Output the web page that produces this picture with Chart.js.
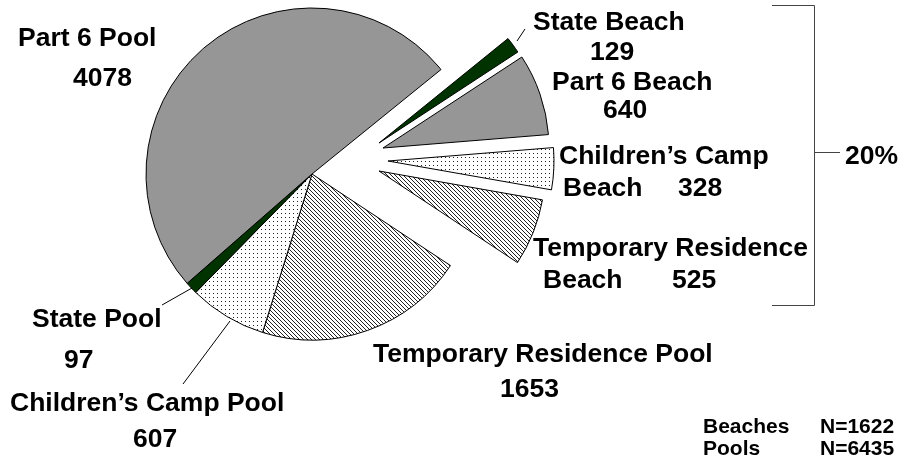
<!DOCTYPE html>
<html><head><meta charset="utf-8">
<script src="https://cdn.jsdelivr.net/npm/chart.js@4"></script>
<style>html,body{margin:0;padding:0;background:#fff;}#wrap{width:904px;height:461px;}</style>
</head><body><div id="wrap"><canvas id="c" width="904" height="461"></canvas></div>
<script>
// ---- data ----
const categories = ["State Beach","Part 6 Beach","Children’s Camp Beach","Temporary Residence Beach","Temporary Residence Pool","Children’s Camp Pool","State Pool","Part 6 Pool"];
const values = [129, 640, 328, 525, 1653, 607, 97, 4078];
const groupNames = ["Beaches", "Pools"];
const groupTotals = [1622, 6435];
const bracketLabel = "20%";

// ---- styles ----
const GREY = '#969696', GREEN = '#003300';
function makePattern(kind){
  const c = document.createElement('canvas'); c.width = 4; c.height = 4;
  const g = c.getContext('2d');
  g.fillStyle = '#fff'; g.fillRect(0,0,4,4);
  g.fillStyle = '#222';
  if (kind === 'dots') { g.fillRect(1,1,1,1); }
  else { for (let i=0;i<4;i++) g.fillRect(i,i,1,1); }
  return g.createPattern(c,'repeat');
}
const DOTS = makePattern('dots'), HATCH = makePattern('hatch');
const fills = [GREEN, GREY, DOTS, HATCH, HATCH, DOTS, GREEN, GREY];
// translation of the detached (beach) slices, in px
const shifts = {0:[67,-31], 1:[71,-26], 2:[76,-13], 3:[67,-3]};

const explodePlugin = {
  id: 'explode',
  afterDatasetUpdate(chart, args) {
    args.meta.data.forEach((arc, i) => {
      const s = shifts[i];
      if (s) { arc.x += s[0]; arc.y += s[1]; }
    });
  }
};

const FONT = 'bold 26.5px "Liberation Sans", Arial, sans-serif';
const FONT_S = 'bold 21px "Liberation Sans", Arial, sans-serif';
// label placement: [text, left x, baseline y]
function labelItems(){
  const v = values.map(String);
  const w = s => s.split(' ');
  const ccb = w(categories[2]), trb = w(categories[3]);
  return [
    [categories[7], 18, 46], [v[7], 73, 86],
    [categories[0], 533, 30], [v[0], 590, 60],
    [categories[1], 552, 90], [v[1], 603, 118],
    [ccb.slice(0,2).join(' '), 559, 164], [ccb.slice(2).join(' '), 563, 196], [v[2], 678, 196],
    [trb.slice(0,2).join(' '), 533, 256], [trb.slice(2).join(' '), 543, 288], [v[3], 672, 288],
    [categories[6], 32, 327], [v[6], 64, 368],
    [categories[5], 10, 411], [v[5], 133, 447],
    [categories[4], 373, 362], [v[4], 500, 397],
    [bracketLabel, 845, 164]
  ];
}
const annotPlugin = {
  id: 'annot',
  afterDraw(chart) {
    const ctx = chart.ctx;
    ctx.save();
    ctx.fillStyle = '#000';
    ctx.textAlign = 'left'; ctx.textBaseline = 'alphabetic';
    ctx.font = FONT;
    labelItems().forEach(([t,x,y]) => ctx.fillText(t, x, y));
    ctx.font = FONT_S;
    groupNames.forEach((g, i) => {
      const y = 433 + i*22;
      ctx.fillText(g, 703, y);
      ctx.fillText('N=' + groupTotals[i], 820, y);
    });
    // leader lines
    ctx.strokeStyle = '#000'; ctx.lineWidth = 1;
    [[517,41,525,29],[192,288,162,305],[230,321,183,384]].forEach(([a,b,c,d]) => {
      ctx.beginPath(); ctx.moveTo(a,b); ctx.lineTo(c,d); ctx.stroke();
    });
    // bracket
    ctx.strokeStyle = '#444';
    ctx.beginPath();
    ctx.moveTo(772,5.5); ctx.lineTo(814.5,5.5); ctx.lineTo(814.5,305.5); ctx.lineTo(772,305.5);
    ctx.moveTo(814.5,152.5); ctx.lineTo(840,152.5);
    ctx.stroke();
    ctx.restore();
  }
};

new Chart(document.getElementById('c'), {
  type: 'pie',
  data: {
    labels: categories,
    datasets: [{
      data: values,
      backgroundColor: fills,
      borderColor: '#000',
      borderWidth: 1,
      borderJoinStyle: 'miter'
    }]
  },
  options: {
    responsive: false,
    animation: false,
    events: [],
    rotation: 51,
    radius: 166,
    layout: { padding: { left: 0, right: 280, top: 0, bottom: 113 } },
    plugins: { legend: { display: false }, tooltip: { enabled: false } }
  },
  plugins: [explodePlugin, annotPlugin]
});
</script>
</body></html>
